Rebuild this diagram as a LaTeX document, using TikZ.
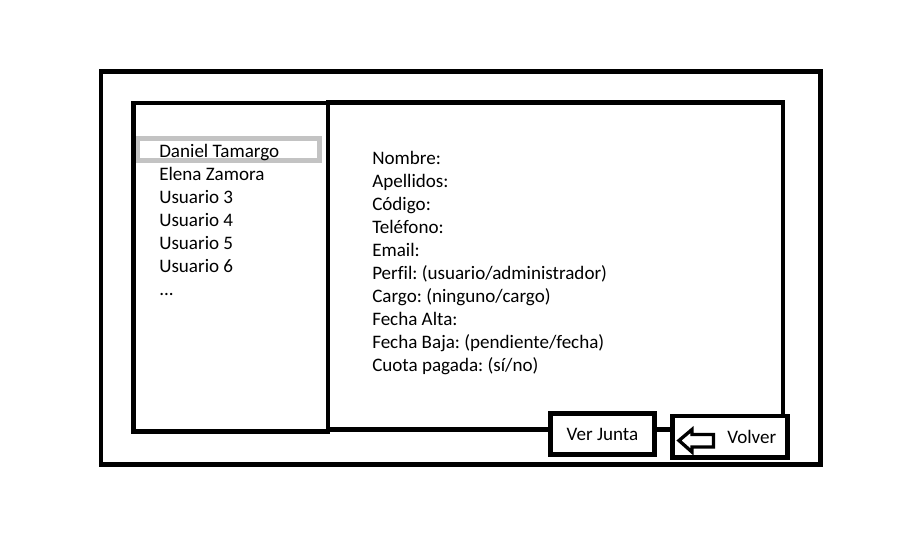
\documentclass[tikz,border=0pt]{standalone}
\usepackage{fontspec}
\setmainfont{Carlito}[Ligatures=CommonOff]
\frenchspacing
\definecolor{selgray}{RGB}{195,195,195}

\begin{document}
\begin{tikzpicture}[%
      x=0.75pt, y=-0.75pt,
      frame/.style={draw=black, line width=3.6pt},
      button/.style={draw=black, fill=white, line width=3.6pt, inner sep=0pt},
      item/.style={anchor=base west, inner sep=0pt, font=\fontsize{14.3pt}{17pt}\selectfont},
      ]
      \useasboundingbox (0,0) rectangle (907,539);

      \draw [frame] (101,71.5) rectangle (820.5,464.5);
      \draw [frame] (328,102.5) rectangle (783,429.5);
      \draw [frame] (133.5,103) rectangle (328,431.5);

      \draw [color=selgray, line width=3.4pt] (138,138.5) rectangle (319.5,160.5);

      \node [item] (u1) at (159,157.5) {Daniel Tamargo};
      \node [item] (u2) at (159,180.5) {Elena Zamora};
      \node [item] (u3) at (159,203.5) {Usuario 3};
      \node [item] (u4) at (159,226.5) {Usuario 4};
      \node [item] (u5) at (159,249.5) {Usuario 5};
      \node [item] (u6) at (159,272.5) {Usuario 6};
      \node [item] (u7) at (159,295.5) {...};

      \node [item] (f1) at (372,164.5) {Nombre:};
      \node [item] (f2) at (372,187.5) {Apellidos:};
      \node [item] (f3) at (372,210.5) {Código:};
      \node [item] (f4) at (372,233.5) {Teléfono:};
      \node [item] (f5) at (372,256.5) {Email:};
      \node [item] (f6) at (372,279.5) {Perfil: (usuario/administrador)};
      \node [item] (f7) at (372,302.5) {Cargo: (ninguno/cargo)};
      \node [item] (f8) at (372,325.5) {Fecha Alta:};
      \node [item] (f9) at (372,348.5) {Fecha Baja: (pendiente/fecha)};
      \node [item] (f10) at (372,371.5) {Cuota pagada: (sí/no)};

      \node [button, minimum width=78.4pt, minimum height=30.75pt,
             font=\fontsize{14.3pt}{17pt}\selectfont] (verjunta) at (602.5,434) {Ver Junta};
      \node [button, minimum width=86.25pt, minimum height=31.1pt] (volver) at (730,436.75) {};
      \node [item] (volvertxt) at (727,443.5) {Volver};

      \draw [color=black, line width=2.5pt, miter limit=10]
            (679,440.5) -- (692,429.5) -- (692,434.5) -- (713.5,434.5)
            -- (713.5,447) -- (692,447) -- (692,452) -- cycle;
      \end{tikzpicture}
\end{document}
